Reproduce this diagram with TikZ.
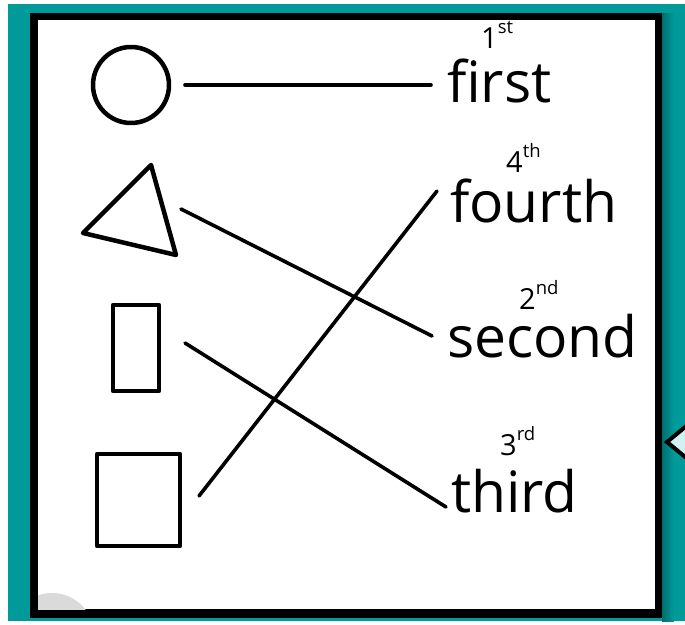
\documentclass[tikz,border=0pt]{standalone}
\usepackage{fontspec}
\setmainfont{Open Sans}
\definecolor{tealbg}{HTML}{009A9A}
\definecolor{tealdark}{HTML}{006E6E}
\definecolor{lightcyan}{HTML}{D2F2F2}
\definecolor{blobgray}{HTML}{DADADA}
\tikzset{
  shapeline/.style={draw=black, line width=4.5pt, line join=round},
  link/.style={draw=black, line width=3.6pt, line cap=round},
  word/.style={inner sep=0pt, anchor=base west, font=\fontsize{57}{62}\selectfont},
  ordinal/.style={inner sep=0pt, anchor=base west, font=\fontsize{29}{31}\selectfont},
}
\newcommand{\ordsuf}[1]{\raisebox{14.5pt}{\fontsize{18.5}{20}\selectfont #1}}
\begin{document}
\begin{tikzpicture}[x=1pt,y=-1pt]
\useasboundingbox (0,0) rectangle (685,624);
\fill[white] (0,0) rectangle (685,624);
% frame
\fill[tealbg] (8,4) rectangle (685,621);
\fill[left color=tealdark, right color=tealbg] (662,13) rectangle (674,621);
\fill[black] (30,13) rectangle (662,618);
\fill[white] (38,20) rectangle (655,609);
\begin{scope}
  \clip (38,20) rectangle (655,609);
  \fill[blobgray] (52,635) circle (42);
\end{scope}
% pointer at right edge
\draw[line width=4pt, fill=lightcyan, line join=miter] (690,423) -- (667,442) -- (690,461);

% shapes
\draw[shapeline] (131,85) circle (38);
\draw[shapeline] (83,233) -- (151,165) -- (176,255) -- cycle;
\draw[shapeline] (113,305) rectangle (159,391);
\draw[shapeline] (97,454) rectangle (180,546);

% words
\node[word] (first) at (447,102) {first};
\node[word] (fourth) at (450,222) {fourth};
\node[word] (second) at (447,357) {second};
\node[word] (third) at (451,512) {third};

\node[ordinal] (o1) at (481,48) {1\ordsuf{st}};
\node[ordinal] (o4) at (506,172) {4\ordsuf{th}};
\node[ordinal] (o2) at (519,309) {2\ordsuf{nd}};
\node[ordinal] (o3) at (500,455) {3\ordsuf{rd}};

% connector endpoints
\coordinate (c1) at (185,85);
\coordinate (e1) at (431,85);
\coordinate (c2) at (181,209);
\coordinate (e2) at (432,336);
\coordinate (c3) at (185,343);
\coordinate (e3) at (446,507);
\coordinate (c4) at (199,496);
\coordinate (e4) at (437,191);

\draw[link] (c1) -- (e1);
\draw[link] (c2) -- (e2);
\draw[link] (c3) -- (e3);
\draw[link] (c4) -- (e4);
\end{tikzpicture}
\end{document}
